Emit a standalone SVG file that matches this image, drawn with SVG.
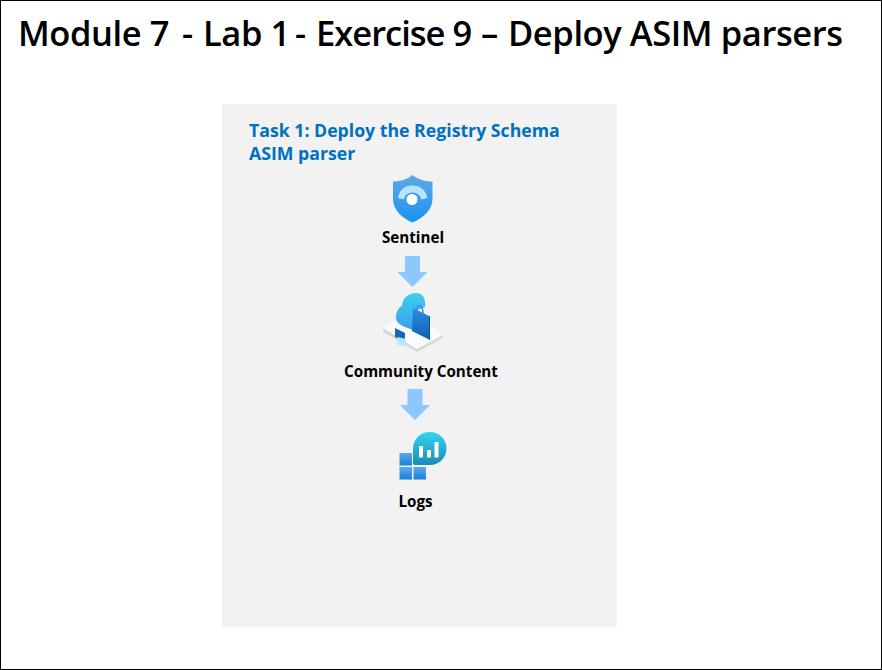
<svg xmlns="http://www.w3.org/2000/svg" width="882" height="670" viewBox="0 0 882 670">
<defs>
<style>
text{font-family:"Open Sans","Noto Sans","Liberation Sans",sans-serif}
.label{font-size:15.2px;font-weight:700;fill:#000;text-anchor:middle}
.arrow{fill:#8cc8ff}
.sp{font-size:10px}
</style>
<linearGradient id="sh" x1="0" y1="0" x2="0" y2="1"><stop offset="0" stop-color="#5ea8e8"/><stop offset="1" stop-color="#1b93f0"/></linearGradient>
<linearGradient id="cl" x1="0" y1="0" x2="0" y2="1"><stop offset="0" stop-color="#3fd0f0"/><stop offset="1" stop-color="#3a9fe8"/></linearGradient>
<linearGradient id="bag" x1="0" y1="0" x2="0" y2="1"><stop offset="0" stop-color="#2a8fe0"/><stop offset="1" stop-color="#0f5fb5"/></linearGradient>
<linearGradient id="bub" x1="0" y1="0" x2="0" y2="1"><stop offset="0" stop-color="#32d4f5"/><stop offset="1" stop-color="#198ab3"/></linearGradient>
<linearGradient id="sq" x1="0" y1="0" x2="0" y2="1"><stop offset="0" stop-color="#5ea8f0"/><stop offset="1" stop-color="#1b7fd8"/></linearGradient>
</defs>
<rect x="0.5" y="0.5" width="881" height="669" fill="#fff" stroke="#000"/>
<text id="title" x="18" y="46" font-size="34.5" font-weight="600" fill="#000" letter-spacing="-0.42">Module 7<tspan class="sp"> </tspan><tspan x="182">-</tspan><tspan class="sp"> </tspan><tspan x="203">Lab 1</tspan><tspan class="sp"> </tspan><tspan x="295">-</tspan><tspan class="sp"> </tspan><tspan x="316" letter-spacing="-1">Exercise 9</tspan><tspan class="sp"> </tspan><tspan x="481">–</tspan><tspan class="sp"> </tspan><tspan x="508">Deploy ASIM parsers</tspan></text>
<rect id="panel" x="222" y="104" width="395" height="523" fill="#f2f2f2"/>
<g id="task-title" font-size="17.7" font-weight="700" fill="#0070c0">
<text x="249" y="137">Task 1: Deploy the Registry Schema</text>
<text x="249" y="160">ASIM parser</text>
</g>
<g id="sentinel">
<path d="M412.500 175C406 180 399 181.500 393 181.500V199C393 210 402 218 412.500 222.500C423 218 432.500 210 432.500 199V181.500C426 181.500 419 180 412.500 175Z" fill="url(#sh)"/>
<path d="M398 198C399 190 405 185.500 412.500 185.500C420 185.500 426 190 427.500 198L421.500 199.500C420 195 417 192.500 412.500 192.500C408 192.500 405 195 403.500 199.500Z" fill="#b5e6fb"/>
<circle cx="412" cy="199.500" r="5.500" fill="#fff"/>
<text class="label" x="413" y="243">Sentinel</text>
</g>
<g id="community-content">
<path d="M383 329L412 313L443 335V338L417 352L383 332Z" fill="#d8d8d8"/>
<path d="M383 328L412 312L443 335L417 349Z" fill="#fbfbfb"/>
<path d="M396 318C396 311 399 307 402 306C402 298 409 293 416 293C423 293 426 299 425 307L413 312V330L405 327C400 325 396 322 396 318Z" fill="url(#cl)"/>
<path d="M413 308L430 316.500V340L412 331Z" fill="url(#bag)"/>
<path d="M430 316.500V340L429 339.500V316Z" fill="#0d4f9a"/>
<path d="M417 310C416 304 423 304 423 313" fill="none" stroke="#3a8ed8" stroke-width="1.500"/>
<path d="M395 328L405 333V342L395 337Z" fill="#1567c0"/>
<path d="M397.500 337L406 339V347L397.500 345Z" fill="#bde6f7"/>
<text class="label" x="421" y="377">Community Content</text>
</g>
<g id="logs">
<path d="M430 432A16.500 16.500 0 0 1 430 465H415Q413 465 413 463V448.500A16.500 16.500 0 0 1 430 432Z" fill="url(#bub)"/>
<rect x="419" y="446" width="4" height="11.500" fill="#fff"/>
<rect x="427" y="450" width="4" height="7.500" fill="#fff"/>
<rect x="434.500" y="442" width="4" height="15.500" fill="#fff"/>
<rect x="399.500" y="453" width="12.500" height="12.500" fill="url(#sq)"/>
<rect x="399.500" y="467" width="12.500" height="12.500" fill="url(#sq)"/>
<rect x="413.500" y="467" width="12.500" height="12.500" fill="url(#sq)"/>
<text class="label" x="415.500" y="507">Logs</text>
</g>
<g id="connectors">
<path class="arrow" d="M405 256H420V272H427.500L412.500 287L397.500 272H405Z"/>
<path class="arrow" d="M407.500 389H422.500V405H430L415 420L400 405H407.500Z"/>
</g>
</svg>
